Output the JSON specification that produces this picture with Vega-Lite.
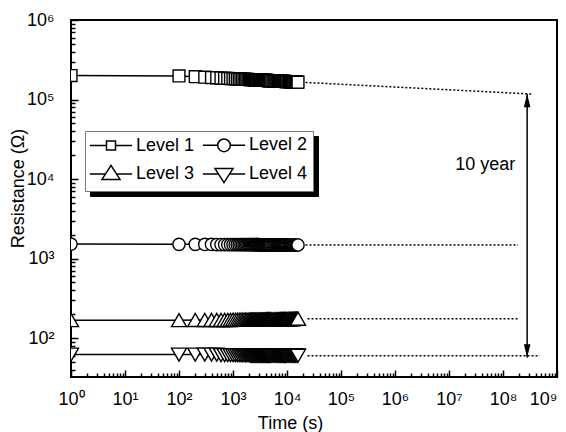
{
  "$schema": "https://vega.github.io/schema/vega-lite/v6.json",
  "width": 486,
  "height": 357,
  "autosize": "none",
  "padding": {"left": 71, "top": 20, "right": 9, "bottom": 55},
  "background": "white",
  "config": {
    "view": {"stroke": "black", "strokeWidth": 2},
    "font": "Liberation Sans",
    "axis": {
      "domain": false,
      "grid": false,
      "tickColor": "black",
      "tickWidth": 1.5,
      "labelFont": "Liberation Sans",
      "labelFontSize": 18,
      "labelColor": "black",
      "labelOverlap": false,
      "labelFlush": false,
      "labelBound": false,
      "titleFont": "Liberation Sans",
      "titleFontSize": 18,
      "titleFontWeight": "normal",
      "titleColor": "black"
    }
  },
  "resolve": {"scale": {"shape": "independent"}, "legend": {"shape": "independent"}},
  "datasets": {
    "meas": [
      {"t": 1, "Level 1": 200000, "Level 2": 1520, "Level 3": 168, "Level 4": 62},
      {"t": 100, "Level 1": 198000, "Level 2": 1510, "Level 3": 168, "Level 4": 62},
      {"t": 200, "Level 1": 193500, "Level 2": 1510, "Level 3": 169, "Level 4": 62},
      {"t": 300, "Level 1": 190900, "Level 2": 1505, "Level 3": 169, "Level 4": 62},
      {"t": 400, "Level 1": 189000, "Level 2": 1505, "Level 3": 169, "Level 4": 62},
      {"t": 500, "Level 1": 187500, "Level 2": 1500, "Level 3": 169, "Level 4": 62},
      {"t": 600, "Level 1": 186400, "Level 2": 1500, "Level 3": 169, "Level 4": 61},
      {"t": 700, "Level 1": 185400, "Level 2": 1500, "Level 3": 169, "Level 4": 61},
      {"t": 800, "Level 1": 184500, "Level 2": 1500, "Level 3": 169, "Level 4": 61},
      {"t": 900, "Level 1": 183700, "Level 2": 1500, "Level 3": 169, "Level 4": 61},
      {"t": 1000, "Level 1": 183000, "Level 2": 1500, "Level 3": 170, "Level 4": 61},
      {"t": 1100, "Level 1": 182400, "Level 2": 1495, "Level 3": 170, "Level 4": 61},
      {"t": 1200, "Level 1": 181800, "Level 2": 1495, "Level 3": 170, "Level 4": 61},
      {"t": 1300, "Level 1": 181300, "Level 2": 1495, "Level 3": 170, "Level 4": 61},
      {"t": 1400, "Level 1": 180800, "Level 2": 1495, "Level 3": 170, "Level 4": 61},
      {"t": 1500, "Level 1": 180400, "Level 2": 1495, "Level 3": 170, "Level 4": 61},
      {"t": 1600, "Level 1": 180000, "Level 2": 1495, "Level 3": 170, "Level 4": 61},
      {"t": 1700, "Level 1": 179600, "Level 2": 1495, "Level 3": 170, "Level 4": 61},
      {"t": 1800, "Level 1": 179200, "Level 2": 1495, "Level 3": 170, "Level 4": 61},
      {"t": 1900, "Level 1": 178900, "Level 2": 1495, "Level 3": 170, "Level 4": 61},
      {"t": 2000, "Level 1": 178500, "Level 2": 1495, "Level 3": 170, "Level 4": 61},
      {"t": 2100, "Level 1": 178200, "Level 2": 1495, "Level 3": 171, "Level 4": 60},
      {"t": 2200, "Level 1": 177900, "Level 2": 1495, "Level 3": 171, "Level 4": 60},
      {"t": 2300, "Level 1": 177600, "Level 2": 1495, "Level 3": 171, "Level 4": 60},
      {"t": 2400, "Level 1": 177300, "Level 2": 1495, "Level 3": 171, "Level 4": 60},
      {"t": 2500, "Level 1": 177100, "Level 2": 1495, "Level 3": 171, "Level 4": 60},
      {"t": 2600, "Level 1": 176800, "Level 2": 1495, "Level 3": 171, "Level 4": 60},
      {"t": 2700, "Level 1": 176600, "Level 2": 1495, "Level 3": 171, "Level 4": 60},
      {"t": 2800, "Level 1": 176300, "Level 2": 1495, "Level 3": 171, "Level 4": 60},
      {"t": 2900, "Level 1": 176100, "Level 2": 1495, "Level 3": 171, "Level 4": 60},
      {"t": 3000, "Level 1": 175900, "Level 2": 1495, "Level 3": 171, "Level 4": 60},
      {"t": 3100, "Level 1": 175700, "Level 2": 1490, "Level 3": 171, "Level 4": 60},
      {"t": 3200, "Level 1": 175500, "Level 2": 1490, "Level 3": 171, "Level 4": 60},
      {"t": 3300, "Level 1": 175300, "Level 2": 1490, "Level 3": 171, "Level 4": 60},
      {"t": 3400, "Level 1": 175100, "Level 2": 1490, "Level 3": 171, "Level 4": 60},
      {"t": 3500, "Level 1": 174900, "Level 2": 1490, "Level 3": 171, "Level 4": 60},
      {"t": 3600, "Level 1": 174700, "Level 2": 1490, "Level 3": 171, "Level 4": 60},
      {"t": 3700, "Level 1": 174500, "Level 2": 1490, "Level 3": 171, "Level 4": 60},
      {"t": 3800, "Level 1": 174300, "Level 2": 1490, "Level 3": 171, "Level 4": 60},
      {"t": 3900, "Level 1": 174200, "Level 2": 1490, "Level 3": 171, "Level 4": 60},
      {"t": 4000, "Level 1": 174000, "Level 2": 1490, "Level 3": 171, "Level 4": 60},
      {"t": 4100, "Level 1": 173900, "Level 2": 1490, "Level 3": 172, "Level 4": 60},
      {"t": 4200, "Level 1": 173700, "Level 2": 1490, "Level 3": 172, "Level 4": 60},
      {"t": 4300, "Level 1": 173600, "Level 2": 1490, "Level 3": 172, "Level 4": 60},
      {"t": 4400, "Level 1": 173400, "Level 2": 1490, "Level 3": 172, "Level 4": 60},
      {"t": 4500, "Level 1": 173300, "Level 2": 1490, "Level 3": 172, "Level 4": 60},
      {"t": 4600, "Level 1": 173100, "Level 2": 1490, "Level 3": 172, "Level 4": 60},
      {"t": 4700, "Level 1": 173000, "Level 2": 1490, "Level 3": 172, "Level 4": 60},
      {"t": 4800, "Level 1": 172800, "Level 2": 1490, "Level 3": 172, "Level 4": 60},
      {"t": 4900, "Level 1": 172700, "Level 2": 1490, "Level 3": 172, "Level 4": 60},
      {"t": 5000, "Level 1": 172600, "Level 2": 1490, "Level 3": 172, "Level 4": 60},
      {"t": 5250, "Level 1": 172200, "Level 2": 1490, "Level 3": 172, "Level 4": 60},
      {"t": 5500, "Level 1": 171900, "Level 2": 1490, "Level 3": 172, "Level 4": 60},
      {"t": 5750, "Level 1": 171600, "Level 2": 1490, "Level 3": 172, "Level 4": 60},
      {"t": 6000, "Level 1": 171400, "Level 2": 1490, "Level 3": 172, "Level 4": 60},
      {"t": 6250, "Level 1": 171100, "Level 2": 1485, "Level 3": 172, "Level 4": 60},
      {"t": 6500, "Level 1": 170900, "Level 2": 1485, "Level 3": 172, "Level 4": 60},
      {"t": 6750, "Level 1": 170600, "Level 2": 1485, "Level 3": 172, "Level 4": 60},
      {"t": 7000, "Level 1": 170400, "Level 2": 1485, "Level 3": 172, "Level 4": 60},
      {"t": 7250, "Level 1": 170200, "Level 2": 1485, "Level 3": 173, "Level 4": 60},
      {"t": 7500, "Level 1": 169900, "Level 2": 1485, "Level 3": 173, "Level 4": 60},
      {"t": 7750, "Level 1": 169700, "Level 2": 1485, "Level 3": 173, "Level 4": 60},
      {"t": 8000, "Level 1": 169500, "Level 2": 1485, "Level 3": 173, "Level 4": 60},
      {"t": 8250, "Level 1": 169300, "Level 2": 1485, "Level 3": 173, "Level 4": 60},
      {"t": 8500, "Level 1": 169100, "Level 2": 1485, "Level 3": 173, "Level 4": 60},
      {"t": 8750, "Level 1": 168900, "Level 2": 1485, "Level 3": 173, "Level 4": 60},
      {"t": 9000, "Level 1": 168700, "Level 2": 1485, "Level 3": 173, "Level 4": 60},
      {"t": 9250, "Level 1": 168600, "Level 2": 1485, "Level 3": 173, "Level 4": 60},
      {"t": 9500, "Level 1": 168400, "Level 2": 1485, "Level 3": 173, "Level 4": 60},
      {"t": 9750, "Level 1": 168200, "Level 2": 1485, "Level 3": 173, "Level 4": 60},
      {"t": 10000, "Level 1": 168100, "Level 2": 1485, "Level 3": 173, "Level 4": 60},
      {"t": 10500, "Level 1": 167700, "Level 2": 1485, "Level 3": 174, "Level 4": 60},
      {"t": 11000, "Level 1": 167400, "Level 2": 1485, "Level 3": 174, "Level 4": 60},
      {"t": 11500, "Level 1": 167100, "Level 2": 1485, "Level 3": 174, "Level 4": 60},
      {"t": 12000, "Level 1": 166900, "Level 2": 1480, "Level 3": 174, "Level 4": 60},
      {"t": 12500, "Level 1": 166600, "Level 2": 1480, "Level 3": 174, "Level 4": 60},
      {"t": 13000, "Level 1": 166300, "Level 2": 1480, "Level 3": 174, "Level 4": 60},
      {"t": 13500, "Level 1": 166100, "Level 2": 1480, "Level 3": 175, "Level 4": 60},
      {"t": 14000, "Level 1": 165900, "Level 2": 1480, "Level 3": 175, "Level 4": 60},
      {"t": 14500, "Level 1": 165600, "Level 2": 1480, "Level 3": 175, "Level 4": 60},
      {"t": 15000, "Level 1": 165400, "Level 2": 1480, "Level 3": 175, "Level 4": 60},
      {"t": 15500, "Level 1": 165200, "Level 2": 1480, "Level 3": 175, "Level 4": 60},
      {"t": 16000, "Level 1": 165000, "Level 2": 1480, "Level 3": 175, "Level 4": 60}
    ],
    "ext": [
      {"series": "Level 1", "t": 22000, "r": 164000},
      {"series": "Level 1", "t": 360000000, "r": 117000},
      {"series": "Level 2", "t": 22000, "r": 1480},
      {"series": "Level 2", "t": 190000000, "r": 1480},
      {"series": "Level 3", "t": 24000, "r": 175},
      {"series": "Level 3", "t": 200000000, "r": 175},
      {"series": "Level 4", "t": 24000, "r": 60},
      {"series": "Level 4", "t": 480000000, "r": 60}
    ],
    "keys": [{"k": "Level 1"}, {"k": "Level 2"}, {"k": "Level 3"}, {"k": "Level 4"}],
    "keys2": [{"s": "Level 1"}, {"s": "Level 2"}, {"s": "Level 3"}, {"s": "Level 4"}]
  },
  "encoding": {
    "x": {
      "field": "t",
      "type": "quantitative",
      "scale": {"type": "log", "domain": [1, 1000000000]},
      "axis": {
        "title": "Time (s)",
        "values": [1,2,3,4,5,6,7,8,9,10,20,30,40,50,60,70,80,90,100,200,300,400,500,600,700,800,900,1000,2000,3000,4000,5000,6000,7000,8000,9000,10000,20000,30000,40000,50000,60000,70000,80000,90000,100000,200000,300000,400000,500000,600000,700000,800000,900000,1000000,2000000,3000000,4000000,5000000,6000000,7000000,8000000,9000000,10000000,20000000,30000000,40000000,50000000,60000000,70000000,80000000,90000000,100000000,200000000,300000000,400000000,500000000,600000000,700000000,800000000,900000000,1000000000],
        "labelExpr": "(abs(log(datum.value)/LN10 - round(log(datum.value)/LN10)) < 0.001) ? '10' + ['⁰','¹','²','³','⁴','⁵','⁶','⁷','⁸','⁹'][round(log(datum.value)/LN10)] : ''",
        "tickSize": {"condition": {"test": "abs(log(datum.value)/LN10 - round(log(datum.value)/LN10)) < 0.001", "value": -7}, "value": -4},
        "labelAlign": {"condition": {"test": "datum.value > 500000000", "value": "right"}, "value": "center"},
        "labelPadding": 20,
        "titleX": 219,
        "titleY": 51,
        "titleBaseline": "alphabetic",
        "titleAlign": "center"
      }
    },
    "y": {
      "field": "r",
      "type": "quantitative",
      "scale": {"type": "log", "domain": [32.4, 1000000]},
      "axis": {
        "title": "Resistance (Ω)",
        "values": [40,50,60,70,80,90,100,200,300,400,500,600,700,800,900,1000,2000,3000,4000,5000,6000,7000,8000,9000,10000,20000,30000,40000,50000,60000,70000,80000,90000,100000,200000,300000,400000,500000,600000,700000,800000,900000,1000000],
        "labelExpr": "(abs(log(datum.value)/LN10 - round(log(datum.value)/LN10)) < 0.001) ? '10' + ['⁰','¹','²','³','⁴','⁵','⁶','⁷','⁸','⁹'][round(log(datum.value)/LN10)] : ''",
        "tickSize": {"condition": {"test": "abs(log(datum.value)/LN10 - round(log(datum.value)/LN10)) < 0.001", "value": -7}, "value": -4},
        "labelPadding": 24,
        "titleX": -48,
        "titleY": 168,
        "titleAngle": -90,
        "titleBaseline": "alphabetic",
        "titleAlign": "center"
      }
    }
  },
  "layer": [
    {
      "data": {"name": "meas"},
      "transform": [{"fold": ["Level 1", "Level 2", "Level 3", "Level 4"], "as": ["series", "r"]}],
      "mark": {"type": "line", "color": "black", "strokeWidth": 1.5, "clip": true},
      "encoding": {"detail": {"field": "series", "type": "nominal"}}
    },
    {
      "data": {"name": "meas"},
      "transform": [{"fold": ["Level 1", "Level 2", "Level 3", "Level 4"], "as": ["series", "r"]}],
      "mark": {"type": "point", "filled": true, "fill": "white", "stroke": "black", "strokeWidth": 1.4, "opacity": 1, "size": 225, "clip": true},
      "encoding": {
        "shape": {
          "field": "series",
          "type": "nominal",
          "scale": {"domain": ["Level 1", "Level 2", "Level 3", "Level 4"], "range": ["M-0.79,-0.79H0.79V0.79H-0.79Z", "M0.82,0A0.82,0.82,0,1,1,-0.82,0A0.82,0.82,0,1,1,0.82,0Z", "triangle-up", "triangle-down"]},
          "legend": null
        }
      }
    },
    {
      "data": {"name": "ext"},
      "mark": {"type": "line", "color": "black", "strokeWidth": 1.5, "strokeDash": [2, 2]},
      "encoding": {"detail": {"field": "series", "type": "nominal"}}
    },
    {
      "data": {"values": [{"t": 280000000, "r": 117000, "r2": 57}]},
      "mark": {"type": "rule", "color": "black", "strokeWidth": 1.5},
      "encoding": {"y2": {"field": "r2"}}
    },
    {
      "data": {"values": [{"t": 280000000, "r": 117000}]},
      "mark": {"type": "point", "shape": "M0,0L1,4L-1,4Z", "filled": true, "color": "black", "opacity": 1, "size": 44}
    },
    {
      "data": {"values": [{"t": 280000000, "r": 57}]},
      "mark": {"type": "point", "shape": "M0,0L1,-4L-1,-4Z", "filled": true, "color": "black", "opacity": 1, "size": 44}
    },
    {
      "data": {"values": [{"t": 47000000, "r": 15000, "label": "10 year"}]},
      "mark": {"type": "text", "font": "Liberation Sans", "fontSize": 18, "color": "black", "align": "center", "baseline": "middle"},
      "encoding": {"text": {"field": "label"}}
    },
    {
      "data": {"name": "keys2"},
      "mark": {"type": "point", "filled": true, "color": "black", "opacity": 0},
      "encoding": {
        "x": {"value": 10},
        "y": {"value": 10},
        "shape": {
          "field": "s",
          "type": "nominal",
          "scale": {"range": ["M-4.7,0H-1M1,0H4.7M-1,-1H1V1H-1Z", "M-4.7,0H-1.4M1.4,0H4.7M1.4,0A1.4,1.4,0,1,1,-1.4,0A1.4,1.4,0,1,1,1.4,0Z", "M-4.7,0H-1.23M1.23,0H4.7M0,-1.9L2,1.2L-2,1.2Z", "M-4.7,0H-1.23M1.23,0H4.7M0,1.9L2,-1.2L-2,-1.2Z"]},
          "legend": {
            "title": null,
            "orient": "none",
            "direction": "horizontal",
            "legendX": 19,
            "legendY": 116,
            "columns": 2,
            "columnPadding": 4,
            "rowPadding": 7,
            "padding": 5,
            "fillColor": "black",
            "strokeColor": "black",
            "symbolSize": 81,
            "symbolOffset": 12,
            "labelFont": "Liberation Sans",
            "labelFontSize": 18,
            "labelColor": "black",
            "labelOpacity": 0,
            "labelOffset": 16
          }
        }
      }
    },
    {
      "data": {"name": "keys"},
      "mark": {"type": "point", "filled": true, "fill": "white", "stroke": "black", "strokeWidth": 1.2, "opacity": 0},
      "encoding": {
        "x": {"value": 10},
        "y": {"value": 10},
        "shape": {
          "field": "k",
          "type": "nominal",
          "scale": {"range": ["M-4.7,0H-1M1,0H4.7M-1,-1H1V1H-1Z", "M-4.7,0H-1.4M1.4,0H4.7M1.4,0A1.4,1.4,0,1,1,-1.4,0A1.4,1.4,0,1,1,1.4,0Z", "M-4.7,0H-1.23M1.23,0H4.7M0,-1.9L2,1.2L-2,1.2Z", "M-4.7,0H-1.23M1.23,0H4.7M0,1.9L2,-1.2L-2,-1.2Z"]},
          "legend": {
            "title": null,
            "orient": "none",
            "direction": "horizontal",
            "legendX": 14,
            "legendY": 111,
            "columns": 2,
            "columnPadding": 4,
            "rowPadding": 7,
            "padding": 5,
            "fillColor": "white",
            "strokeColor": "#777777",
            "symbolSize": 81,
            "symbolOffset": 12,
            "labelFont": "Liberation Sans",
            "labelFontSize": 18,
            "labelColor": "black",
            "labelOffset": 16
          }
        }
      }
    }
  ]
}
